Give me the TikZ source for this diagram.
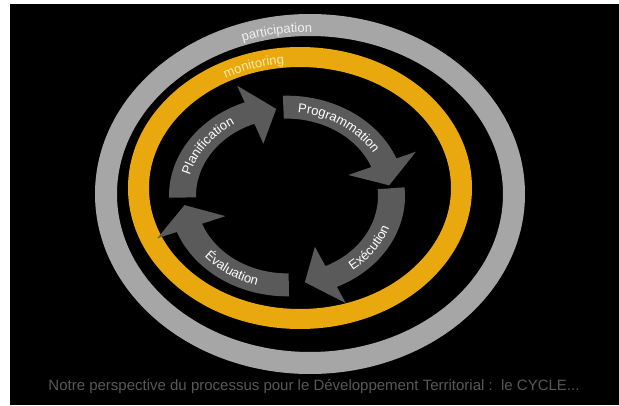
\documentclass[tikz,border=0pt]{standalone}
\usepackage{fontspec}
\setmainfont{Liberation Sans}
\usetikzlibrary{decorations.text}
\definecolor{ringgrey}{RGB}{166,166,166}
\definecolor{ringgold}{RGB}{232,168,14}
\definecolor{arrowgrey}{RGB}{90,90,90}
\definecolor{captiongrey}{RGB}{88,88,88}
\definecolor{goldtext}{RGB}{255,236,170}
\definecolor{paletext}{RGB}{240,240,240}
\begin{document}
\begin{tikzpicture}[x=1pt,y=1pt,
  arrowfill/.style={fill=arrowgrey},
  arclabel/.style={decorate, decoration={text along path, text align=center,
     text={|\fontsize{13}{15}\selectfont\color{white}|#1}}},
  ringlabel/.style 2 args={decorate, decoration={text along path, text align=center,
     text={|\fontsize{13}{15}\selectfont\color{#2}|#1}}}
]
\path[use as bounding box] (0,0) rectangle (619,405);
\fill[white] (0,0) rectangle (619,405);
\fill[black] (10,0) rectangle (619,401);
% outer participation ring
\fill[ringgrey, even odd rule] (310,211) ellipse[x radius=215, y radius=180]
     (310,211) ellipse[x radius=193, y radius=158];
% monitoring ring
\fill[ringgold, even odd rule] (300,217) ellipse[x radius=172, y radius=141]
     (300,217) ellipse[x radius=151, y radius=121];
% ring labels
\path[shift={(310,211)}, ringlabel={participation}{paletext}]
     (130:198 and 162) arc[start angle=130, end angle=70, x radius=198, y radius=162];
\path[shift={(300,217)}, ringlabel={monitoring}{goldtext}]
     (138:154 and 125) arc[start angle=138, end angle=78, x radius=154, y radius=125];
% cycle arrows
\begin{scope}[shift={(287,209)}, yscale=0.85]
\foreach \a in {181,92,5,271}{
  \pgfmathsetmacro{\b}{\a-70}
  \pgfmathsetmacro{\c}{\a-85}
  \fill[arrowfill] (\a:118) arc[start angle=\a, end angle=\b, radius=118]
     -- (\b:139) -- (\c:103) -- (\b:66) -- (\b:91)
     arc[start angle=\b, end angle=\a, radius=91] -- cycle;
}
\end{scope}
% arrow labels
\path[shift={(287,209)}, arclabel={Planification}]
     (185:100 and 84) arc[start angle=185, end angle=105, x radius=100, y radius=84];
\path[shift={(287,209)}, arclabel={Programmation}]
     (98:100 and 84) arc[start angle=98, end angle=14, x radius=100, y radius=84];
\path[shift={(287,209)}, arclabel={Exécution}]
     (-75:109 and 93) arc[start angle=-75, end angle=5, x radius=109, y radius=93];
\path[shift={(287,209)}, arclabel={Évaluation}]
     (196:109 and 93) arc[start angle=196, end angle=276, x radius=109, y radius=93];
% caption
\node[font=\fontsize{15}{18}\selectfont, text=captiongrey, inner sep=0pt] (caption) at (314,18)
  {Notre perspective du processus pour le Développement Territorial :\ \ le CYCLE...};
\end{tikzpicture}
\end{document}
